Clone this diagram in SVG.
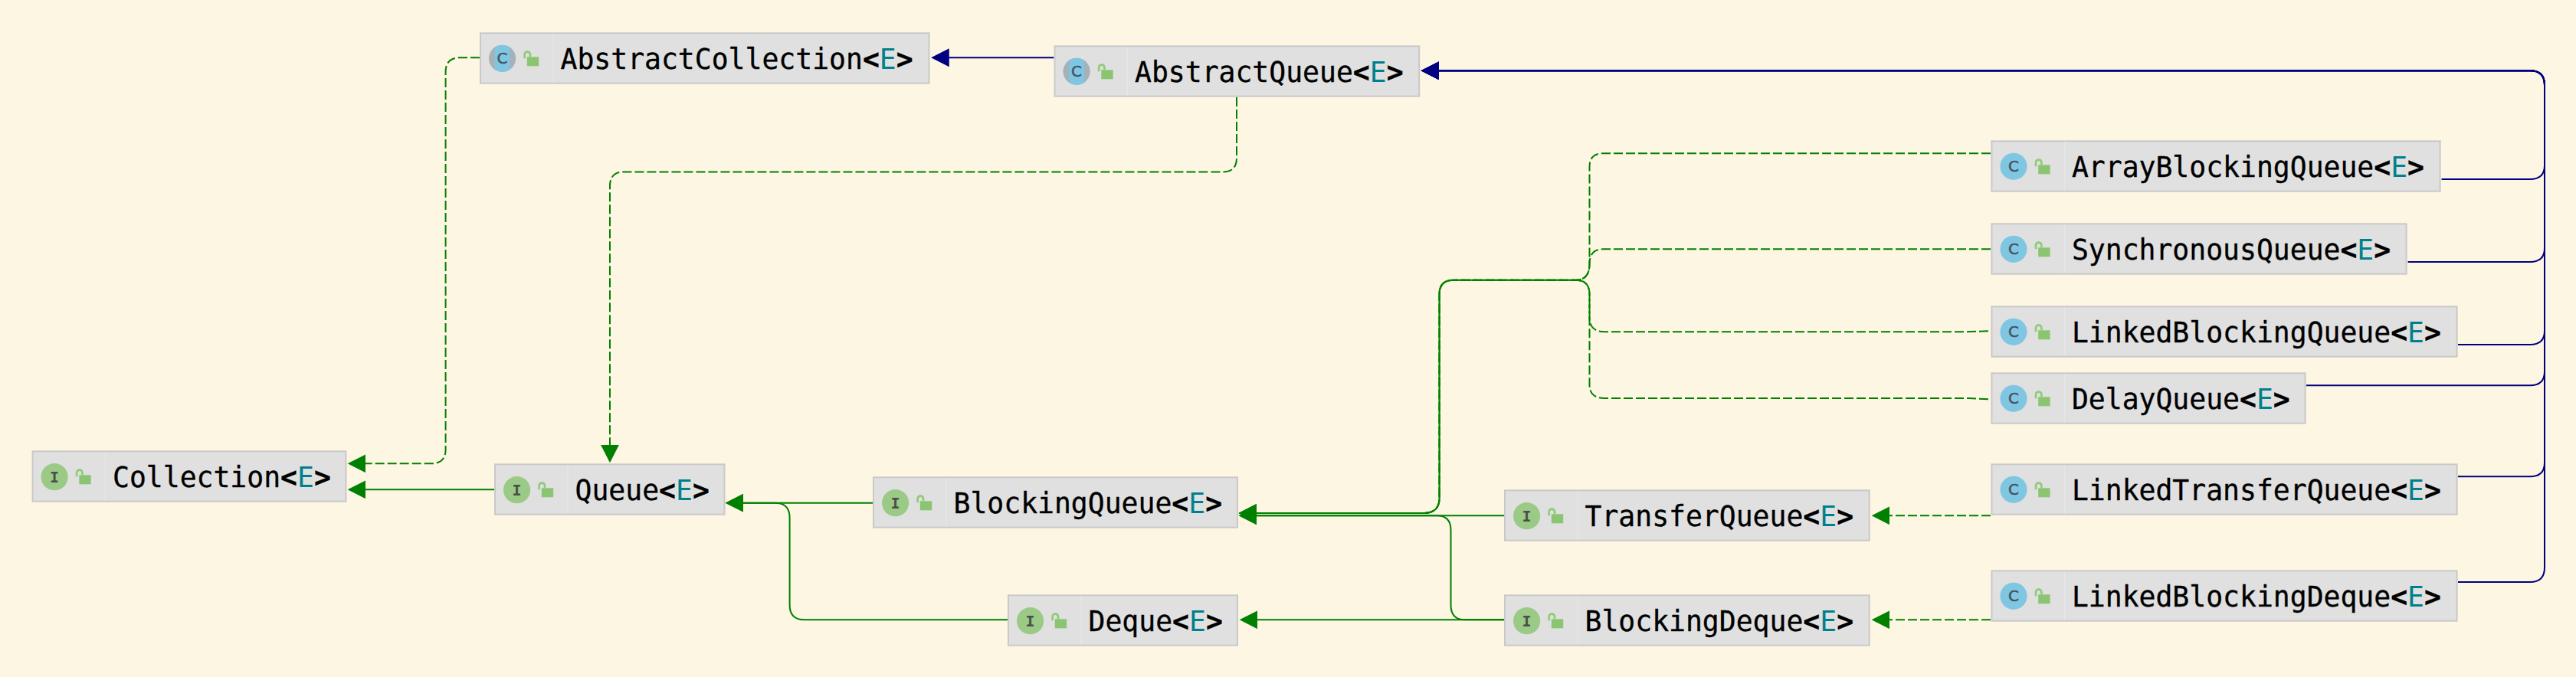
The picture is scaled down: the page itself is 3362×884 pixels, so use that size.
<svg xmlns="http://www.w3.org/2000/svg" width="3362" height="884" viewBox="0 0 3362 884">
<style>
.box{fill:#e0e0e0;stroke:#c9c9c9;stroke-width:2}
.sep{stroke:#e6e6e6;stroke-width:1.5}
.nm{font-family:"DejaVu Sans Mono","Liberation Mono",monospace;font-size:36.4px;fill:#000;stroke:#000;stroke-width:.35px}
.e{fill:#00808c;stroke:none}
.b{font-weight:bold}
.ig{font-family:"DejaVu Sans Mono",monospace;font-size:20px;fill:#4a4f48;text-anchor:middle;font-weight:bold}
.cg{font-family:"DejaVu Sans","Liberation Sans",sans-serif;font-size:20px;fill:#44525e;stroke:#44525e;stroke-width:.5px;text-anchor:middle}
.ic{fill:#9aca85}
.cc{fill:#7fc6e3}
.cg2{fill:#a6b1b9}
.c{fill:none;stroke-width:2}
.gs{stroke:#008000;marker-end:url(#ag)}
.gd{stroke:#008000;stroke-dasharray:12 4;marker-end:url(#ag)}
.ns{stroke:#000080;marker-end:url(#an)}
</style>
<defs>
<marker id="ag" markerUnits="userSpaceOnUse" markerWidth="24" markerHeight="24" viewBox="0 0 23 23.4" refX="9" refY="11.7" orient="auto"><path d="M0 0L23 11.7L0 23.4Z" fill="#008000"/></marker>
<marker id="an" markerUnits="userSpaceOnUse" markerWidth="24" markerHeight="24" viewBox="0 0 23 23.4" refX="9" refY="11.7" orient="auto"><path d="M0 0L23 11.7L0 23.4Z" fill="#000080"/></marker>
<g id="lock"><rect x="61.8" y="32" width="15.4" height="12" fill="#8cc572"/><path d="M58.6 34V29.5Q58.6 25.3 62.3 25.3Q66 25.3 66 29.5V32" fill="none" stroke="#8ecb78" stroke-width="2.6"/></g>
<g id="ii"><circle class="ic" cx="29.6" cy="34.4" r="17.6"/></g>
<g id="ci"><circle class="cc" cx="29.6" cy="34" r="17.6"/></g>
<g id="ai"><circle class="cg2" cx="29.6" cy="34" r="17.6"/><path class="cc" d="M19.8 19.37A17.6 17.6 0 0 1 39.4 19.37V48.63A17.6 17.6 0 0 1 19.8 48.63Z"/></g>
</defs>
<rect width="3362" height="884" fill="#fdf6e3"/>
<g id="connectors">
<path class="c gd" d="M626 75.3H600Q581.6 75.3 581.6 94V587Q581.6 605.3 563 605.3H468"/>
<path class="c ns" d="M1375.5 75.3H1229.5"/>
<path class="c gd" d="M1614 127V206Q1614 224.5 1596 224.5H814Q796 224.5 796 243V590"/>
<path class="c gs" d="M645 639.3H468"/>
<path class="c gs" d="M1139 656.7H961"/>
<path class="c gs" d="M1315 809.3H1050Q1030.6 809.3 1030.6 790V676Q1030.6 656.7 1011 656.7H961"/>
<path class="c gs" d="M1963 809.3H1632"/>
<path class="c gs" d="M1963 673.3H1631"/>
<path class="c gs" d="M1963 809.3H1912Q1893.5 809.3 1893.5 790V692Q1893.5 673.3 1875 673.3H1631"/>
<path class="c gd" d="M2598 200.3H2092Q2074.5 200.3 2074.5 218V345Q2074.5 365.7 2056 365.7H1897Q1878.6 365.7 1878.6 384V650Q1878.6 670 1858 670H1631"/>
<path class="c gd" d="M2598 325.3H2092Q2074.5 325.3 2074.5 345Q2074.5 365.7 2056 365.7H1897Q1878.6 365.7 1878.6 384V650Q1878.6 670 1858 670H1631"/>
<path class="c gd" d="M2595 432.3L2565 433.3H2094Q2074.5 433.3 2074.5 414V384Q2074.5 365.7 2056 365.7H1897Q1878.6 365.7 1878.6 384V650Q1878.6 670 1858 670H1631"/>
<path class="c gd" d="M2595 521.3L2570 520H2094Q2074.5 520 2074.5 502V384Q2074.5 365.7 2056 365.7H1897Q1878.6 365.7 1878.6 384V650Q1878.6 670 1858 670H1631"/>
<path class="c gd" d="M2598 673.3H2457"/>
<path class="c gd" d="M2598 809.3H2457"/>
<path class="c ns" d="M3186.6 234H3302Q3321 234 3321 216V111Q3321 92.3 3302 92.3H1869"/>
<path class="c ns" d="M3142.6 342H3302Q3321 342 3321 324V111Q3321 92.3 3302 92.3H1869"/>
<path class="c ns" d="M3208 450H3302Q3321 450 3321 432V111Q3321 92.3 3302 92.3H1869"/>
<path class="c ns" d="M3010 503.3H3302Q3321 503.3 3321 485V111Q3321 92.3 3302 92.3H1869"/>
<path class="c ns" d="M3208 622.3H3302Q3321 622.3 3321 604V111Q3321 92.3 3302 92.3H1869"/>
<path class="c ns" d="M3208 760H3302Q3321 760 3321 741V111Q3321 92.3 3302 92.3H1869"/>
</g>
<g id="Collection" transform="translate(41.5,588.3)"><rect class="box" x="1" y="1" width="409" height="65.4"/><line class="sep" x1="96" y1="2" x2="96" y2="65.4"/><use href="#ii"/><text class="ig" x="29.6" y="41.5">I</text><use href="#lock"/><text class="nm" x="105.5" y="47.7">Collection<tspan class="b">&lt;</tspan><tspan class="e">E</tspan><tspan class="b">&gt;</tspan></text></g>
<g id="AbstractCollection" transform="translate(626,42.3)"><rect class="box" x="1" y="1" width="585.5" height="65.4"/><line class="sep" x1="96" y1="2" x2="96" y2="65.4"/><use href="#ai"/><text class="cg" x="29.6" y="41">C</text><use href="#lock"/><text class="nm" x="105.5" y="47.7">AbstractCollection<tspan class="b">&lt;</tspan><tspan class="e">E</tspan><tspan class="b">&gt;</tspan></text></g>
<g id="AbstractQueue" transform="translate(1375.5,59.3)"><rect class="box" x="1" y="1" width="475.7" height="65.4"/><line class="sep" x1="96" y1="2" x2="96" y2="65.4"/><use href="#ai"/><text class="cg" x="29.6" y="41">C</text><use href="#lock"/><text class="nm" x="105.5" y="47.7">AbstractQueue<tspan class="b">&lt;</tspan><tspan class="e">E</tspan><tspan class="b">&gt;</tspan></text></g>
<g id="Queue" transform="translate(645,605.3)"><rect class="box" x="1" y="1" width="299.5" height="65.4"/><line class="sep" x1="96" y1="2" x2="96" y2="65.4"/><use href="#ii"/><text class="ig" x="29.6" y="41.5">I</text><use href="#lock"/><text class="nm" x="105.5" y="47.7">Queue<tspan class="b">&lt;</tspan><tspan class="e">E</tspan><tspan class="b">&gt;</tspan></text></g>
<g id="BlockingQueue" transform="translate(1139,622.3)"><rect class="box" x="1" y="1" width="475" height="65.4"/><line class="sep" x1="96" y1="2" x2="96" y2="65.4"/><use href="#ii"/><text class="ig" x="29.6" y="41.5">I</text><use href="#lock"/><text class="nm" x="105.5" y="47.7">BlockingQueue<tspan class="b">&lt;</tspan><tspan class="e">E</tspan><tspan class="b">&gt;</tspan></text></g>
<g id="Deque" transform="translate(1315,776.3)"><rect class="box" x="1" y="1" width="299" height="65.4"/><line class="sep" x1="96" y1="2" x2="96" y2="65.4"/><use href="#ii"/><text class="ig" x="29.6" y="41.5">I</text><use href="#lock"/><text class="nm" x="105.5" y="47.7">Deque<tspan class="b">&lt;</tspan><tspan class="e">E</tspan><tspan class="b">&gt;</tspan></text></g>
<g id="TransferQueue" transform="translate(1963,639.3)"><rect class="box" x="1" y="1" width="475.7" height="65.4"/><line class="sep" x1="96" y1="2" x2="96" y2="65.4"/><use href="#ii"/><text class="ig" x="29.6" y="41.5">I</text><use href="#lock"/><text class="nm" x="105.5" y="47.7">TransferQueue<tspan class="b">&lt;</tspan><tspan class="e">E</tspan><tspan class="b">&gt;</tspan></text></g>
<g id="BlockingDeque" transform="translate(1963,776.3)"><rect class="box" x="1" y="1" width="475.7" height="65.4"/><line class="sep" x1="96" y1="2" x2="96" y2="65.4"/><use href="#ii"/><text class="ig" x="29.6" y="41.5">I</text><use href="#lock"/><text class="nm" x="105.5" y="47.7">BlockingDeque<tspan class="b">&lt;</tspan><tspan class="e">E</tspan><tspan class="b">&gt;</tspan></text></g>
<g id="ArrayBlockingQueue" transform="translate(2598.4,183.3)"><rect class="box" x="1" y="1" width="585.2" height="65.4"/><line class="sep" x1="96" y1="2" x2="96" y2="65.4"/><use href="#ci"/><text class="cg" x="29.6" y="41">C</text><use href="#lock"/><text class="nm" x="105.5" y="47.7">ArrayBlockingQueue<tspan class="b">&lt;</tspan><tspan class="e">E</tspan><tspan class="b">&gt;</tspan></text></g>
<g id="SynchronousQueue" transform="translate(2598.4,291.3)"><rect class="box" x="1" y="1" width="541.2" height="65.4"/><line class="sep" x1="96" y1="2" x2="96" y2="65.4"/><use href="#ci"/><text class="cg" x="29.6" y="41">C</text><use href="#lock"/><text class="nm" x="105.5" y="47.7">SynchronousQueue<tspan class="b">&lt;</tspan><tspan class="e">E</tspan><tspan class="b">&gt;</tspan></text></g>
<g id="LinkedBlockingQueue" transform="translate(2598.4,399.3)"><rect class="box" x="1" y="1" width="607.2" height="65.4"/><line class="sep" x1="96" y1="2" x2="96" y2="65.4"/><use href="#ci"/><text class="cg" x="29.6" y="41">C</text><use href="#lock"/><text class="nm" x="105.5" y="47.7">LinkedBlockingQueue<tspan class="b">&lt;</tspan><tspan class="e">E</tspan><tspan class="b">&gt;</tspan></text></g>
<g id="DelayQueue" transform="translate(2598.4,486.3)"><rect class="box" x="1" y="1" width="409.2" height="65.4"/><line class="sep" x1="96" y1="2" x2="96" y2="65.4"/><use href="#ci"/><text class="cg" x="29.6" y="41">C</text><use href="#lock"/><text class="nm" x="105.5" y="47.7">DelayQueue<tspan class="b">&lt;</tspan><tspan class="e">E</tspan><tspan class="b">&gt;</tspan></text></g>
<g id="LinkedTransferQueue" transform="translate(2598.4,605.3)"><rect class="box" x="1" y="1" width="607.2" height="65.4"/><line class="sep" x1="96" y1="2" x2="96" y2="65.4"/><use href="#ci"/><text class="cg" x="29.6" y="41">C</text><use href="#lock"/><text class="nm" x="105.5" y="47.7">LinkedTransferQueue<tspan class="b">&lt;</tspan><tspan class="e">E</tspan><tspan class="b">&gt;</tspan></text></g>
<g id="LinkedBlockingDeque" transform="translate(2598.4,744.3)"><rect class="box" x="1" y="1" width="607.2" height="65.4"/><line class="sep" x1="96" y1="2" x2="96" y2="65.4"/><use href="#ci"/><text class="cg" x="29.6" y="41">C</text><use href="#lock"/><text class="nm" x="105.5" y="47.7">LinkedBlockingDeque<tspan class="b">&lt;</tspan><tspan class="e">E</tspan><tspan class="b">&gt;</tspan></text></g>
</svg>
